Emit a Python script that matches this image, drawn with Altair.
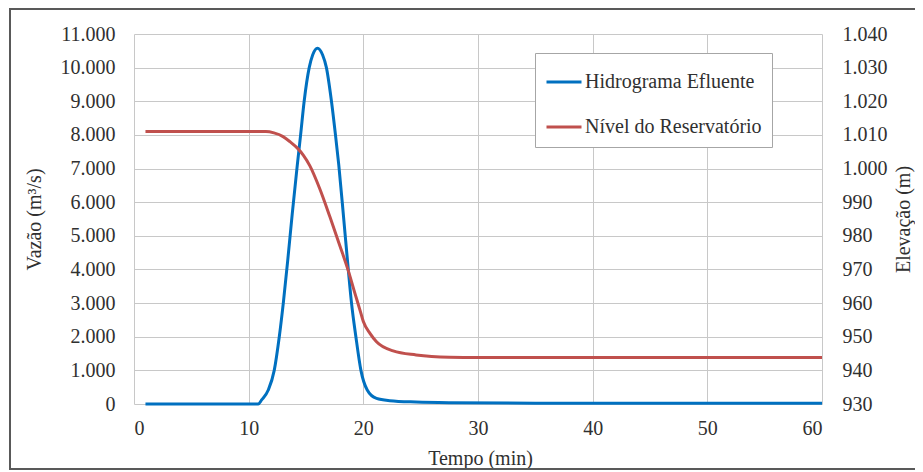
import altair as alt
import pandas as pd

# Hidrograma efluente (m³/s)
t_flow = [1, 5, 10, 10.84, 11.13, 11.71, 12.23, 12.67, 13.02, 13.4, 13.8, 14.24,
          14.53, 14.84, 15.28, 15.58, 16.0, 16.45, 16.78, 17.22, 17.57, 17.86, 18.3,
          18.7, 18.97, 19.35, 19.79, 20.34, 21.15, 22.3, 24.6, 27.5, 35, 45, 60]
q_flow = [0, 0, 0, 0, 120, 416, 1000, 2000, 3000, 4250, 5650, 7100,
          8000, 9000, 10000, 10375, 10575, 10375, 10000, 9000, 8000, 7100, 5470,
          3950, 3000, 2000, 1000, 416, 165, 100, 60, 40, 25, 20, 20]

# Nível do reservatório (m)
t_level = [1, 5, 10, 11.5, 12.2, 13.0, 13.6, 14.27, 14.76, 15.34, 16.2, 17.1, 17.96,
           18.7, 19.3, 19.7, 20.0, 20.58, 21.15, 22.6, 24.6, 27.5, 30, 40, 50, 60]
h_level = [1011, 1011, 1011, 1011, 1010.6, 1009.5, 1008, 1006, 1004, 1000.8, 994,
           985.5, 977, 969.5, 962.5, 958, 954.5, 951, 948.5, 945.8, 944.6, 943.9,
           943.8, 943.8, 943.8, 943.8]

series = ["Hidrograma Efluente", "Nível do Reservatório"]
colors = ["#0070C0", "#C0504D"]
x_ticks = [0, 10, 20, 30, 40, 50, 60]
q_ticks = list(range(0, 11001, 1000))
h_ticks = list(range(930, 1041, 10))

FONT = "Liberation Serif"
TXT = "#303030"
GRID = "#c8c8c8"
fmt = "replace(format(datum.value, ','), ',', '.')"

df_q = pd.DataFrame({"t": t_flow, "v": q_flow, "s": series[0]})
df_h = pd.DataFrame({"t": t_level, "v": h_level, "s": series[1]})

color = alt.Color(
    "s:N",
    scale=alt.Scale(domain=series, range=colors),
    legend=alt.Legend(
        title=None, orient="none", legendX=401, legendY=19,
        symbolType="stroke", symbolStrokeWidth=3, symbolSize=1225,
        labelFont=FONT, labelFontSize=20, labelColor=TXT, labelOffset=2,
        labelLimit=0,
        strokeColor="#a6a6a6", fillColor="white", padding=10, rowPadding=16,
    ),
)

x = alt.X(
    "t:Q",
    scale=alt.Scale(domain=[0, 60], nice=False, zero=False),
    axis=alt.Axis(
        values=x_ticks, title="Tempo (min)", grid=True, gridColor=GRID,
        domain=False, ticks=False, tickSize=0, labelPadding=14,
        labelFont=FONT, labelFontSize=20, labelColor=TXT,
        titleFont=FONT, titleFontSize=20, titleFontWeight="normal", titleColor=TXT,
        titleX=346, titleY=54, titleBaseline="middle",
    ),
)

flow = alt.Chart(df_q).mark_line(strokeWidth=3, interpolate="monotone").encode(
    x=x,
    y=alt.Y(
        "v:Q",
        scale=alt.Scale(domain=[0, 11000], nice=False),
        axis=alt.Axis(
            orient="left", values=q_ticks, title="Vazão  (m³/s)", labelExpr=fmt,
            grid=True, gridColor=GRID, domain=False, ticks=False, tickSize=0,
            labelPadding=19, labelFont=FONT, labelFontSize=20, labelColor=TXT,
            titleFont=FONT, titleFontSize=20, titleFontWeight="normal", titleColor=TXT,
            titleAngle=270, titleX=-100, titleY=185, titleAlign="center",
            titleBaseline="middle",
        ),
    ),
    color=color,
)

level = alt.Chart(df_h).mark_line(strokeWidth=3, interpolate="monotone").encode(
    x=x,
    y=alt.Y(
        "v:Q",
        scale=alt.Scale(domain=[930, 1040], nice=False, zero=False),
        axis=alt.Axis(
            orient="right", values=h_ticks, title="Elevação (m)", labelExpr=fmt,
            grid=False, domain=False, ticks=False, tickSize=0,
            labelPadding=20, labelFont=FONT, labelFontSize=20, labelColor=TXT,
            titleFont=FONT, titleFontSize=20, titleFontWeight="normal", titleColor=TXT,
            titleAngle=270, titleX=81, titleY=185, titleAlign="center",
            titleBaseline="middle",
        ),
    ),
    color=color,
)

frame = alt.Chart(pd.DataFrame({"k": [0]})).mark_rect(
    filled=False, stroke="#595959", strokeWidth=2, clip=False
).encode(
    x=alt.value(-124), x2=alt.value(800), y=alt.value(-25), y2=alt.value(435)
)

chart = (
    alt.layer(frame, flow, level)
    .resolve_scale(y="independent")
    .properties(
        width=688, height=370,
        autosize=alt.AutoSizeParams(type="none"),
        padding={"left": 126, "top": 26, "right": 93, "bottom": 66},
    )
    .configure_view(stroke=None)
    .configure_legend(labelFont=FONT, labelFontSize=20, labelColor=TXT, labelLimit=0)
)

chart.save("out.html", embed_options={"renderer": "svg", "actions": False})
